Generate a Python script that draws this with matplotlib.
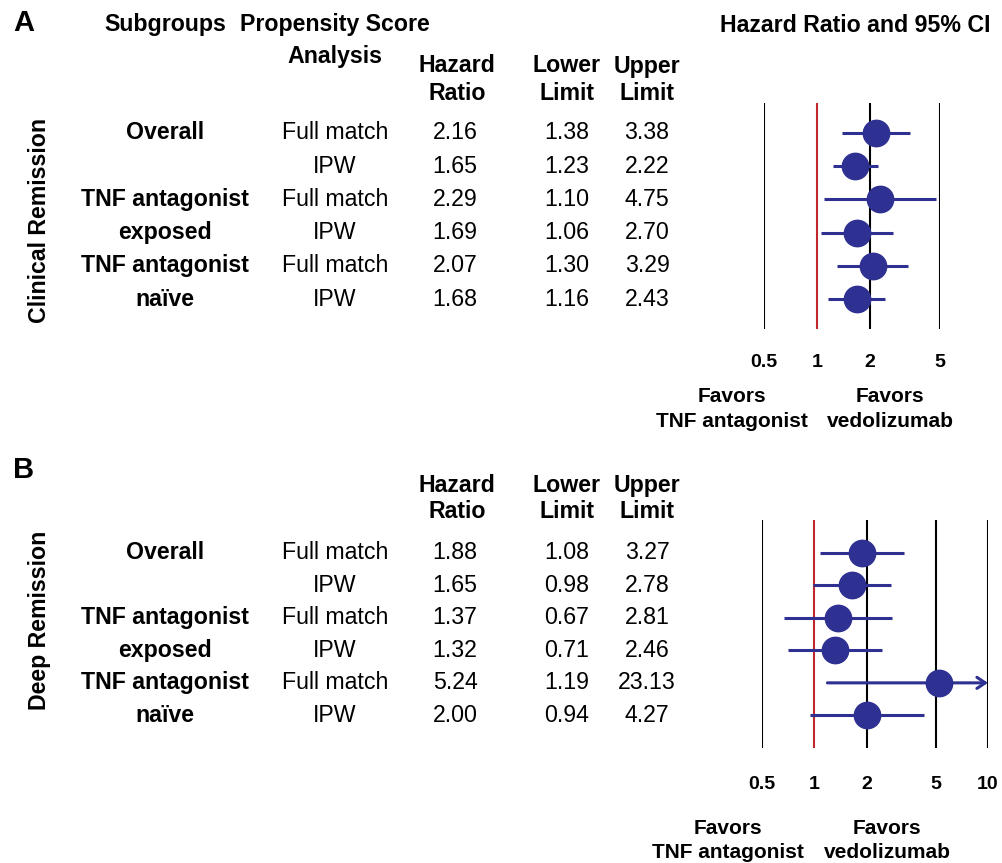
import matplotlib
matplotlib.use("Agg")
import matplotlib.pyplot as plt
from matplotlib.transforms import blended_transform_factory
from matplotlib.ticker import FixedLocator, FixedFormatter, NullLocator

plt.rcParams['font.family'] = ['Liberation Sans', 'DejaVu Sans']

# ---------------- data ----------------
subgroups = ["Overall", "", "TNF antagonist", "exposed", "TNF antagonist", "naïve"]
methods = ["Full match", "IPW", "Full match", "IPW", "Full match", "IPW"]

hr_A = [2.16, 1.65, 2.29, 1.69, 2.07, 1.68]
lo_A = [1.38, 1.23, 1.10, 1.06, 1.30, 1.16]
hi_A = [3.38, 2.22, 4.75, 2.70, 3.29, 2.43]

hr_B = [1.88, 1.65, 1.37, 1.32, 5.24, 2.00]
lo_B = [1.08, 0.98, 0.67, 0.71, 1.19, 0.94]
hi_B = [3.27, 2.78, 2.81, 2.46, 23.13, 4.27]

ticks_A = [0.5, 1, 2, 5]
ticks_B = [0.5, 1, 2, 5, 10]
tick_labels_A = ["0.5", "1", "2", "5"]
tick_labels_B = ["0.5", "1", "2", "5", "10"]

W, H = 1002, 863
NAVY = "#2e3192"
RED = "#c1272d"
FS = 16.7
FS_FAV = 15

fig = plt.figure(figsize=(W / 100, H / 100), dpi=100)
fig.patch.set_facecolor("white")


def ftext(x, y, s, **kw):
    kw.setdefault("fontsize", FS)
    kw.setdefault("ha", "center")
    kw.setdefault("va", "center")
    fig.text(x / W, 1 - y / H, s, **kw)


def make_axes(left, right, top, bottom):
    return fig.add_axes([left / W, 1 - bottom / H, (right - left) / W, (bottom - top) / H])


def forest(ax, hr, lo, hi, ticks, labels, xlim, ylim, pad, clip_at=None):
    ax.set_xscale("log")
    ax.set_xlim(*xlim)
    ax.set_ylim(*ylim)
    for t in ticks:
        ax.axvline(t, color=RED if t == 1 else "black", lw=1.5, zorder=1)
    for i, (h, l, u) in enumerate(zip(hr, lo, hi)):
        if clip_at is not None and u > clip_at:
            ax.annotate("", xy=(clip_at, i), xytext=(l, i),
                        arrowprops=dict(arrowstyle="->,head_length=0.6,head_width=0.4",
                                        color=NAVY, lw=2.2, shrinkA=0, shrinkB=0),
                        zorder=2)
        else:
            ax.plot([l, u], [i, i], color=NAVY, lw=2.2, solid_capstyle="butt", zorder=2)
        ax.plot([h], [i], "o", color=NAVY, markersize=19, zorder=3)
    ax.xaxis.set_major_locator(FixedLocator(ticks))
    ax.xaxis.set_major_formatter(FixedFormatter(labels))
    ax.xaxis.set_minor_locator(NullLocator())
    ax.yaxis.set_major_locator(NullLocator())
    ax.tick_params(axis="x", length=0, pad=pad, labelsize=14)
    for lab in ax.get_xticklabels():
        lab.set_fontweight("bold")
    for sp in ax.spines.values():
        sp.set_visible(False)
    ax.patch.set_alpha(0)


def table(ax, hr, lo, hi):
    tr = blended_transform_factory(fig.transFigure, ax.transData)
    for i in range(len(hr)):
        kw = dict(transform=tr, ha="center", va="center", fontsize=FS)
        if subgroups[i]:
            fig.text(165 / W, i, subgroups[i], fontweight="bold", **kw)
        fig.text(335 / W, i, methods[i], **kw)
        fig.text(455 / W, i, f"{hr[i]:.2f}", **kw)
        fig.text(567 / W, i, f"{lo[i]:.2f}", **kw)
        fig.text(647 / W, i, f"{hi[i]:.2f}", **kw)


# ---------------- Panel A ----------------
axA = make_axes(764, 940, 103, 329)
forest(axA, hr_A, lo_A, hi_A, ticks_A, tick_labels_A, (0.5, 5), (5.9, -0.9), 18)
table(axA, hr_A, lo_A, hi_A)

ftext(24, 23, "A", fontsize=21, fontweight="bold")
ftext(165, 25, "Subgroups", fontweight="bold")
ftext(335, 25, "Propensity Score", fontweight="bold")
ftext(335, 57, "Analysis", fontweight="bold")
ftext(855, 25, "Hazard Ratio and 95% CI", fontweight="bold")
for x, l1, l2 in [(457, "Hazard", "Ratio"), (567, "Lower", "Limit"), (647, "Upper", "Limit")]:
    ftext(x, 66, l1, fontweight="bold")
    ftext(x, 93, l2, fontweight="bold")
ftext(40, 220, "Clinical Remission", rotation=90, fontweight="bold")
ftext(732, 396, "Favors", fontsize=FS_FAV, fontweight="bold")
ftext(732, 421, "TNF antagonist", fontsize=FS_FAV, fontweight="bold")
ftext(890, 396, "Favors", fontsize=FS_FAV, fontweight="bold")
ftext(890, 421, "vedolizumab", fontsize=FS_FAV, fontweight="bold")

# ---------------- Panel B ----------------
axB = make_axes(762, 988, 520, 748)
forest(axB, hr_B, lo_B, hi_B, ticks_B, tick_labels_B, (0.5, 10), (6.0, -1.0), 20, clip_at=10)
table(axB, hr_B, lo_B, hi_B)

ftext(24, 470, "B", fontsize=21, fontweight="bold")
for x, l1, l2 in [(457, "Hazard", "Ratio"), (567, "Lower", "Limit"), (647, "Upper", "Limit")]:
    ftext(x, 485, l1, fontweight="bold")
    ftext(x, 512, l2, fontweight="bold")
ftext(40, 620, "Deep Remission", rotation=90, fontweight="bold")
ftext(728, 828, "Favors", fontsize=FS_FAV, fontweight="bold")
ftext(728, 852, "TNF antagonist", fontsize=FS_FAV, fontweight="bold")
ftext(887, 828, "Favors", fontsize=FS_FAV, fontweight="bold")
ftext(887, 852, "vedolizumab", fontsize=FS_FAV, fontweight="bold")

fig.savefig("out.png", dpi=100)
